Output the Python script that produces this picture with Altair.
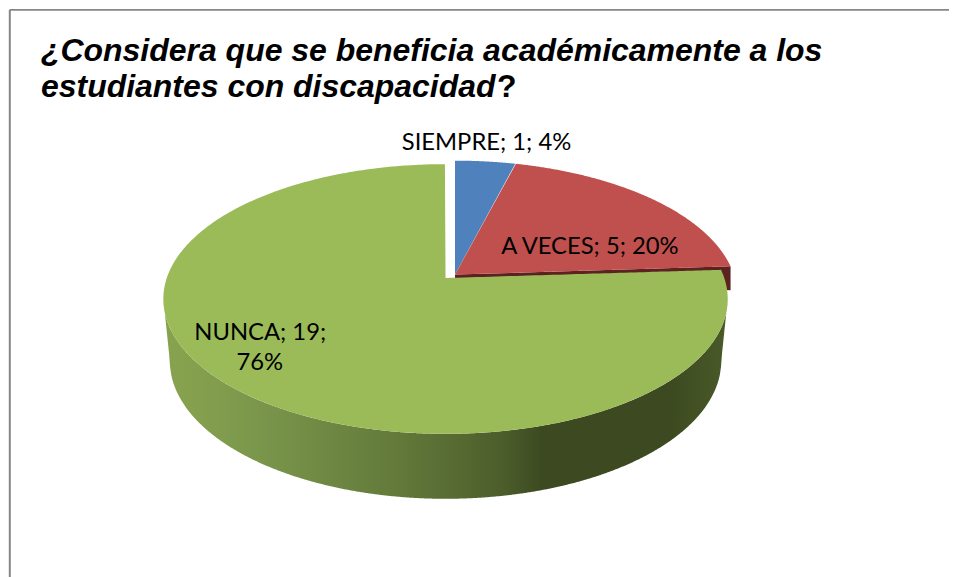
import numpy as np
import pandas as pd
import altair as alt

categories = ["SIEMPRE", "A VECES", "NUNCA"]
values = [1, 5, 19]
percents = ["4%", "20%", "76%"]
colors = ["#4f81bd", "#c0504d", "#9bbb59"]

W, H = 942, 569
X0, Y0 = 8, 8
CX, CY, RX, RY = 446.0, 298.0, 282.5, 135.0
TILT = 21.0 / 135.0
EXPLODE = {"SIEMPRE": (9.5, -3.5), "A VECES": (9.5, -3.5), "NUNCA": (0.0, 0.0)}


def project(deg):
    a = np.radians(deg)
    u, v = np.sin(a), np.cos(a)
    d = 1 + TILT * v
    return u * np.sqrt(1 - TILT ** 2) / d, (v + TILT) / d


def sweep(start, end, dx, dy):
    degs = np.linspace(start, end, 240)
    xu, yu = project(degs)
    xs = np.concatenate([[CX + dx], CX + dx + RX * xu])
    ys = np.concatenate([[CY + dy - RY * TILT], CY + dy - RY * yu])
    return xs, ys


def to_band(xs, ys):
    """Split a closed x-monotone outline in an upper and a lower chain."""
    i0, i1 = int(np.argmin(xs)), int(np.argmax(xs))
    n = len(xs)
    idx_a, i = [i0], i0
    while i != i1:
        i = (i + 1) % n
        idx_a.append(i)
    idx_b, i = [i0], i0
    while i != i1:
        i = (i - 1) % n
        idx_b.append(i)
    ax, ay = xs[idx_a], ys[idx_a]
    bx, by = xs[idx_b], ys[idx_b]
    grid = np.unique(np.concatenate([ax, bx]))
    ya, yb = np.interp(grid, ax, ay), np.interp(grid, bx, by)
    return grid, np.minimum(ya, yb), np.maximum(ya, yb)


rows = []
total = sum(values)
start = 0.0
slice_ends = {}
for cat, val in zip(categories, values):
    end = start + 360.0 * val / total
    stop = end - 0.15 if end >= 360 else end
    dx, dy = EXPLODE[cat]
    gx, gt, gb = to_band(*sweep(start + 0.15 if cat == "A VECES" else start, stop, dx, dy))
    slice_ends[cat] = (start, end)
    for x, t, b in zip(gx, gt, gb):
        rows.append({"cat": cat, "x": float(x), "top": float(t), "bot": float(b)})
    start = end
tops = pd.DataFrame(rows)

xs_scale = alt.Scale(domain=[X0, X0 + W], range=[0, W], nice=False, zero=False)
ys_scale = alt.Scale(domain=[Y0, Y0 + H], range=[0, H], nice=False, zero=False)
X = lambda f: alt.X(f, type="quantitative", scale=xs_scale, axis=None)
Y = lambda f: alt.Y(f, type="quantitative", scale=ys_scale, axis=None)

# side wall of the big slice: between the near edge of the top and a lower, narrower edge
wx = np.linspace(CX - RX, CX + RX, 500)
BCX, BCY, BRX, BRY = 446.0, 360.0, 276.0, 138.0
wt = CY + RY * np.sqrt(np.clip(1 - ((wx - CX) / RX) ** 2, 0, 1))
wb = np.where(
    np.abs(wx - BCX) <= BRX,
    BCY + BRY * np.sqrt(np.clip(1 - ((wx - BCX) / BRX) ** 2, 0, 1)),
    BCY - (np.abs(wx - BCX) - BRX) * (BCY - CY) / (RX - BRX),
)
wall = pd.DataFrame({"x": wx, "top": wt, "bot": wb})

wall_gradient = alt.Gradient(
    gradient="linear", x1=0, x2=1, y1=0, y2=0,
    stops=[
        alt.GradientStop(color="#87a24e", offset=0.03),
        alt.GradientStop(color="#7a964b", offset=0.17),
        alt.GradientStop(color="#62793a", offset=0.42),
        alt.GradientStop(color="#4c5e2b", offset=0.6),
        alt.GradientStop(color="#3d4a21", offset=0.67),
        alt.GradientStop(color="#3d4a21", offset=0.9),
        alt.GradientStop(color="#4a5a28", offset=1),
    ],
)

# cut face of the red slice, seen in the gap above the green top
s0, e0 = slice_ends["A VECES"]
ex, ey = project(e0)
dx, dy = EXPLODE["A VECES"]
ax_, ay_ = CX + dx, CY + dy - RY * TILT
bx_, by_ = CX + dx + RX * ex, CY + dy - RY * ey
cut = pd.DataFrame({"x": [ax_, bx_], "top": [ay_, by_], "bot": [ay_ + 4, by_ + 24]})

layers = [
    alt.Chart(cut).mark_area(color="#5b2220").encode(x=X("x"), y=Y("top"), y2="bot"),
    alt.Chart(wall).mark_area(color=wall_gradient).encode(x=X("x"), y=Y("top"), y2="bot"),
    alt.Chart(tops).mark_area().encode(
        x=X("x"), y=Y("top"), y2="bot",
        color=alt.Color("cat:N", scale=alt.Scale(domain=categories, range=colors), legend=None),
    ),
]

# frame
layers.append(alt.Chart(pd.DataFrame({"x": [9.8], "y": [8.4], "y2": [577.0]})).mark_rule(color="#868686", strokeWidth=2)
              .encode(x=X("x"), y=Y("y"), y2="y2"))
layers.append(alt.Chart(pd.DataFrame({"x": [9.8], "x2": [950.0], "y": [8.6]})).mark_rule(color="#868686", strokeWidth=1.6)
              .encode(x=X("x"), x2="x2", y=Y("y")))

# slice labels
label_rows = [
    {"t": f"{categories[0]}; {values[0]}; {percents[0]}", "x": 487, "y": 148.5},
    {"t": f"{categories[1]}; {values[1]}; {percents[1]}", "x": 590.5, "y": 252.5},
    {"t": f"{categories[2]}; {values[2]};", "x": 260.5, "y": 339},
    {"t": percents[2], "x": 260, "y": 369.5},
]
layers.append(alt.Chart(pd.DataFrame(label_rows)).mark_text(
    font="Lato", fontSize=23.8, color="#000000", align="center", baseline="alphabetic"
).encode(x=X("x"), y=Y("y"), text="t:N"))

# title
title_rows = [
    {"t": "¿Considera que se beneficia académicamente a los", "x": 41, "y": 60},
    {"t": "estudiantes con discapacidad", "x": 41, "y": 96},
]
layers.append(alt.Chart(pd.DataFrame(title_rows)).mark_text(
    font="Liberation Sans", fontSize=32, fontWeight="bold", fontStyle="italic",
    color="#000000", align="left", baseline="alphabetic"
).encode(x=X("x"), y=Y("y"), text="t:N"))
layers.append(alt.Chart(pd.DataFrame([{"t": "?", "x": 497.5, "y": 96}])).mark_text(
    font="Liberation Sans", fontSize=32, fontWeight="bold",
    color="#000000", align="left", baseline="alphabetic"
).encode(x=X("x"), y=Y("y"), text="t:N"))

chart = alt.layer(*layers).properties(width=W, height=H, padding=0, background="white").configure_view(stroke=None)
chart.save("out.html", embed_options={"renderer": "svg", "actions": False})
